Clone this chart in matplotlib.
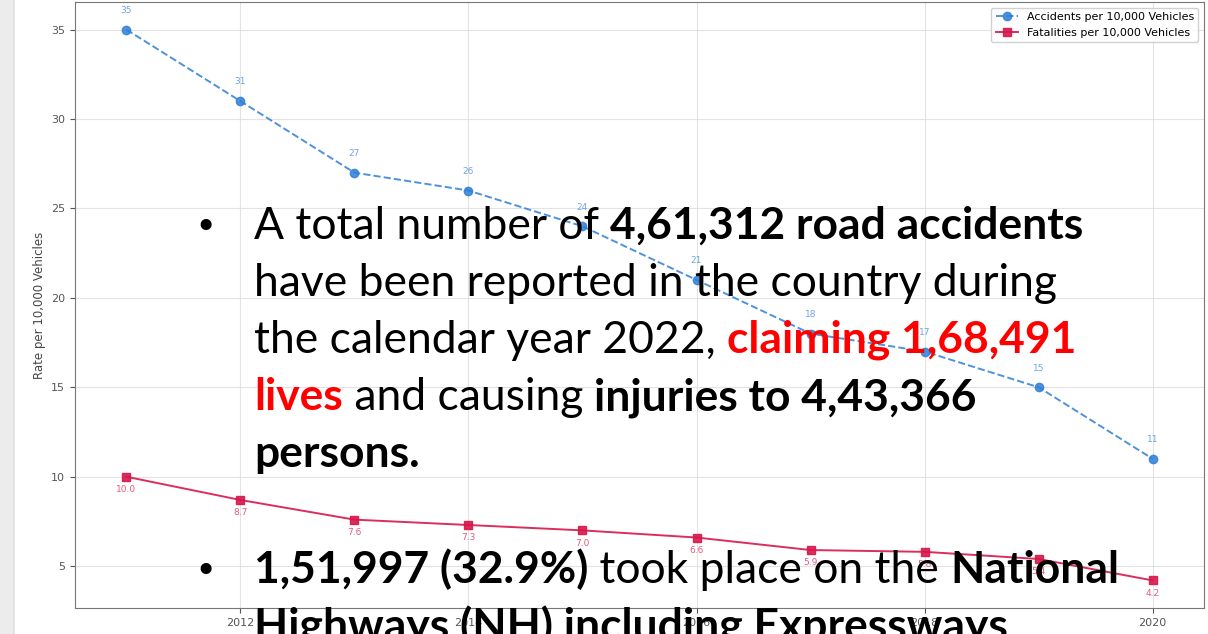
import matplotlib
matplotlib.use("Agg")
import matplotlib.pyplot as plt
from matplotlib.patches import FancyBboxPatch

years = [2011, 2012, 2013, 2014, 2015, 2016, 2017, 2018, 2019, 2020]
accidents = [35, 31, 27, 26, 24, 21, 18, 17, 15, 11]
fatalities = [10.0, 8.7, 7.6, 7.3, 7.0, 6.6, 5.9, 5.8, 5.4, 4.2]
acc_label = "Accidents per 10,000 Vehicles"
fat_label = "Fatalities per 10,000 Vehicles"
ylabel = "Rate per 10,000 Vehicles"

W, H = 1208, 634
fig = plt.figure(figsize=(W / 100, H / 100), dpi=100)
fig.patch.set_facecolor("#ececec")

# white slide panel with rounded corners
panel = FancyBboxPatch((14 / W, -0.2), (1300 - 14) / W, 1.4,
                       boxstyle="round,pad=0,rounding_size=0.09",
                       transform=fig.transFigure, facecolor="white",
                       edgecolor="#dcdcdc", lw=1.0, zorder=-5,
                       mutation_aspect=W / H)
fig.patches.append(panel)

ax = fig.add_axes([75 / W, 1 - 608 / H, (1204 - 75) / W, (608 - 2) / H])
ax.set_facecolor("white")
ax.set_zorder(1)

blue = "#2f7fd6"
red = "#d6174a"

ax.plot(years, accidents, linestyle="--", marker="o", color=blue, lw=1.4,
        markersize=6, label=acc_label, alpha=0.85)
ax.plot(years, fatalities, linestyle="-", marker="s", color=red, lw=1.4,
        markersize=6, label=fat_label, alpha=0.9)

for x, v in zip(years, accidents):
    ax.annotate(f"{v}", (x, v), textcoords="offset points", xytext=(0, 12),
                ha="center", fontsize=6.5, color=blue, alpha=0.7)
for x, v in zip(years, fatalities):
    ax.annotate(f"{v:.1f}", (x, v), textcoords="offset points", xytext=(0, -11),
                ha="center", fontsize=6.5, color=red, alpha=0.7)

ax.set_ylabel(ylabel, fontsize=8.5, color="#444444")
ax.grid(True, color="#dddddd", lw=0.8, alpha=0.8)
ax.tick_params(labelsize=8, colors="#555555")
for s in ax.spines.values():
    s.set_color("#777777")
ax.legend(loc="upper right", fontsize=8, framealpha=0.9, edgecolor="#cccccc")

# ---- overlay slide text ----
renderer = fig.canvas.get_renderer()
FONT = "Lato"


def measure(s, size, bold):
    t = fig.text(0, 0, s, fontsize=size, fontfamily=FONT,
                 fontweight="bold" if bold else "normal")
    w = t.get_window_extent(renderer).width
    t.remove()
    return w


target = 1058 - 254
base = measure("have been reported in the country during", 34, False)
fs = 34 * target / base

lines = [
    (239, [("A total number of ", False, "black"), ("4,61,312 road accidents", True, "black")]),
    (296, [("have been reported in the country during", False, "black")]),
    (353, [("the calendar year 2022, ", False, "black"), ("claiming 1,68,491", True, "#ff0000")]),
    (410, [("lives", True, "#ff0000"), (" and causing ", False, "black"), ("injuries to 4,43,366", True, "black")]),
    (467, [("persons.", True, "black")]),
    (583, [("1,51,997 (32.9%)", True, "black"), (" took place on the ", False, "black"), ("National", True, "black")]),
    (640, [("Highways (NH) including Expressways", True, "black")]),
]

for y, runs in lines:
    x = 254
    for s, bold, col in runs:
        t = fig.text(x / W, 1 - y / H, s, fontsize=fs, fontfamily=FONT,
                     fontweight="bold" if bold else "normal", color=col,
                     va="baseline", ha="left", zorder=10)
        x += t.get_window_extent(renderer).width

for y in (239, 583):
    fig.text(194 / W, 1 - y / H, "\u2022", fontsize=fs * 0.85, fontfamily="DejaVu Sans",
             color="black", va="baseline", ha="left", zorder=10)

fig.savefig("out.png", dpi=100)
